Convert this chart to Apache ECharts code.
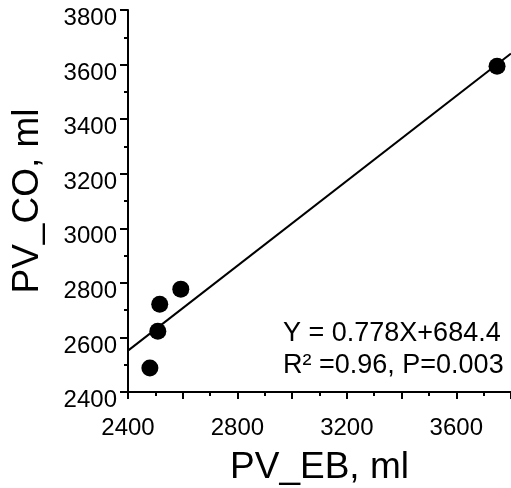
<!DOCTYPE html>
<html>
<head>
<meta charset="utf-8">
<script src="https://cdn.jsdelivr.net/npm/echarts@6/dist/echarts.min.js"></script>
<style>
  html, body { margin: 0; padding: 0; background: #fff; }
  #chart { width: 511px; height: 488px; }
</style>
</head>
<body>
<div id="chart"></div>
<script>
// measured points (PV_EB, PV_CO)
var pvEB = [2480, 2509, 2516, 2593, 3749];
var pvCO = [2488, 2623, 2722, 2777, 3594];

// regression from the plot text
var slope = 0.778;
var intercept = 684.4;
var fitX = [2400, 3800];

var eqText = 'Y = 0.778X+684.4';
var statText = 'R² =0.96, P=0.003';

var font = 'Liberation Sans, Arial, sans-serif';

var points = [];
for (var i = 0; i < pvEB.length; i++) {
    points.push([pvEB[i], pvCO[i]]);
}
var fitLine = fitX.map(function (x) { return [x, slope * x + intercept]; });

var labelRich = { n: { fontSize: 24, color: '#000', fontFamily: font } };
var yLabelRich = { n: { fontSize: 24, lineHeight: 17, color: '#000', fontFamily: font } };

var chart = echarts.init(document.getElementById('chart'));

var option = {
    animation: false,
    grid: {
        left: 128,
        right: 0,
        top: 10,
        bottom: 96,
        outerBoundsMode: 'none'
    },
    xAxis: {
        type: 'value',
        min: 2400,
        max: 3800,
        interval: 200,
        name: 'PV_EB, ml',
        nameLocation: 'middle',
        nameGap: 57,
        nameTextStyle: { fontSize: 37, color: '#000', fontFamily: font },
        axisLine: { lineStyle: { color: '#000', width: 2 } },
        axisTick: { length: 7, lineStyle: { color: '#000', width: 2 } },
        minorTick: { show: true, splitNumber: 2, length: 4, lineStyle: { color: '#000', width: 2 } },
        splitLine: { show: false },
        axisLabel: {
            margin: 24,
            color: '#000',
            rich: labelRich,
            formatter: function (v) { return v % 400 === 0 ? '{n|' + v + '}' : ''; }
        }
    },
    yAxis: {
        type: 'value',
        min: 2400,
        max: 3800,
        interval: 200,
        name: 'PV_CO, ml',
        nameLocation: 'middle',
        nameGap: 82,
        nameTextStyle: { fontSize: 37, color: '#000', fontFamily: font },
        axisLine: { lineStyle: { color: '#000', width: 2 } },
        axisTick: { length: 8, lineStyle: { color: '#000', width: 2 } },
        minorTick: { show: true, splitNumber: 2, length: 4, lineStyle: { color: '#000', width: 2 } },
        splitLine: { show: false },
        axisLabel: {
            margin: 11,
            color: '#000',
            verticalAlign: 'top',
            rich: yLabelRich,
            formatter: function (v) { return '{n|' + v + '}'; }
        }
    },
    graphic: [
        {
            type: 'text',
            left: 283,
            top: 320,
            style: { text: eqText, fontSize: 27, fill: '#000', fontFamily: font }
        },
        {
            type: 'text',
            left: 283,
            top: 352,
            style: { text: statText, fontSize: 27, fill: '#000', fontFamily: font }
        }
    ],
    series: [
        {
            type: 'line',
            data: fitLine,
            symbol: 'none',
            lineStyle: { color: '#000', width: 2 },
            z: 1
        },
        {
            type: 'scatter',
            data: points,
            symbolSize: 17,
            itemStyle: { color: '#000', opacity: 1 },
            z: 2
        }
    ]
};

chart.setOption(option);
</script>
</body>
</html>
